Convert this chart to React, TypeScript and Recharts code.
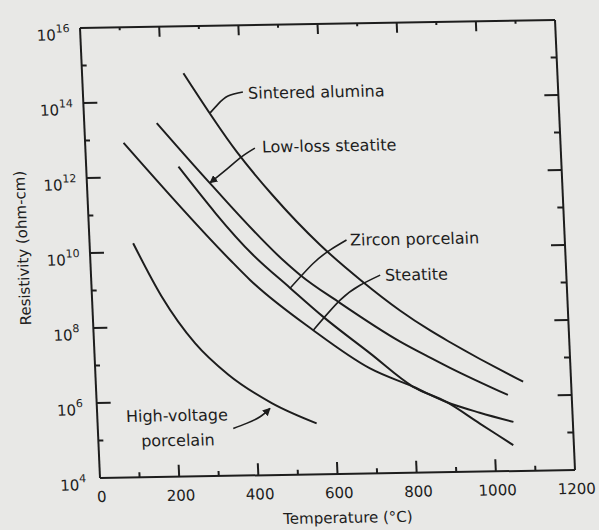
import { LineChart, Line, XAxis, YAxis, ReferenceLine, ReferenceDot } from 'recharts';

// Resistivity of ceramic insulators vs temperature (exponent of ohm-cm)
const aluminaT = [256, 382, 468, 582, 682, 776, 849, 899, 1063, 1079];
const aluminaR = [14.75, 12.63, 11.45, 10.11, 9.14, 8.33, 7.79, 7.46, 6.47, 6.38];

const lowLossT = [183, 311, 487, 528, 625, 773, 847, 896, 1039];
const lowLossR = [13.43, 11.8, 9.72, 9.32, 8.56, 7.5, 7.06, 6.78, 6.03];

const zirconT = [233, 411, 501, 581, 696, 801, 883, 965, 1047];
const zirconR = [12.26, 9.88, 8.98, 8.2, 7.2, 6.29, 5.87, 5.28, 4.69];

const steatiteT = [97, 353, 401, 554, 694, 801, 883, 966, 1050];
const steatiteR = [12.92, 9.75, 9.21, 7.85, 6.8, 6.29, 5.87, 5.57, 5.31];

const hvT = [110, 176, 255, 335, 442, 553];
const hvR = [10.24, 8.81, 7.55, 6.7, 5.92, 5.36];

// leader lines from the labels to their curves
const aluminaLeaderT = [404, 366, 340, 319];
const aluminaLeaderR = [14.22, 14.12, 13.91, 13.68];
const lowLossLeaderT = [428, 394, 358, 311];
const lowLossLeaderR = [12.72, 12.5, 12.2, 11.82];
const zirconLeaderT = [649, 606, 562, 501];
const zirconLeaderR = [10.23, 9.97, 9.62, 8.97];
const steatiteLeaderT = [730, 678, 626, 555];
const steatiteLeaderR = [9.28, 9.02, 8.63, 7.84];
const hvLeaderT = [342, 376, 411, 437];
const hvLeaderR = [5.26, 5.39, 5.56, 5.78];

const tempTicks = [0, 100, 200, 300, 400, 500, 600, 700, 800, 900, 1000, 1100, 1200];
const exponentTicks = [4, 5, 6, 7, 8, 9, 10, 11, 12, 13, 14, 15, 16];

const INK = '#1d1d1d';
const PAPER = '#e8e8e6';
const FONT = '"DejaVu Sans", sans-serif';

const PLOT_LEFT = 100;
const PLOT_RIGHT = 575;
const PLOT_TOP = 28;
const PLOT_BOTTOM = 478;

const zip = (ts: number[], rs: number[]) => ts.map((t, i) => ({ t, r: rs[i] }));

const curves = [
  zip(aluminaT, aluminaR),
  zip(lowLossT, lowLossR),
  zip(zirconT, zirconR),
  zip(steatiteT, steatiteR),
  zip(hvT, hvR),
];

const leaders = [
  { data: zip(aluminaLeaderT, aluminaLeaderR), arrow: false },
  { data: zip(lowLossLeaderT, lowLossLeaderR), arrow: true },
  { data: zip(zirconLeaderT, zirconLeaderR), arrow: false },
  { data: zip(steatiteLeaderT, steatiteLeaderR), arrow: false },
  { data: zip(hvLeaderT, hvLeaderR), arrow: true },
];

const tags = [
  { t: 417, r: 14.19, text: 'Sintered alumina', anchor: 'start' },
  { t: 446, r: 12.75, text: 'Low-loss steatite', anchor: 'start' },
  { t: 658, r: 10.23, text: 'Zircon porcelain', anchor: 'start' },
  { t: 742, r: 9.28, text: 'Steatite', anchor: 'start' },
  { t: 201, r: 5.63, text: 'High-voltage', anchor: 'middle' },
  { t: 201, r: 4.97, text: 'porcelain', anchor: 'middle' },
];

const renderXTick = (props: any) => {
  const { x, payload } = props;
  const v = payload.value;
  const major = v % 200 === 0;
  const edge = v === 0 || v === 1200;
  return (
    <g>
      {!edge && (
        <line x1={x} x2={x} y1={PLOT_BOTTOM} y2={PLOT_BOTTOM - (major ? 12 : 5)} stroke={INK} strokeWidth={2} />
      )}
      {!edge && (
        <line x1={x} x2={x} y1={PLOT_TOP} y2={PLOT_TOP + (major ? 10 : 3)} stroke={INK} strokeWidth={2} />
      )}
      {major && (
        <text x={x + 1} y={PLOT_BOTTOM + 24} textAnchor="middle" fontSize={15} fontFamily={FONT} fill={INK}>
          {v}
        </text>
      )}
    </g>
  );
};

const renderYTick = (props: any) => {
  const { y, payload } = props;
  const n = payload.value;
  const even = n % 2 === 0;
  const edge = n === 4 || n === 16;
  return (
    <g>
      {!edge && (
        <line x1={PLOT_LEFT} x2={PLOT_LEFT + (even ? 14 : 5)} y1={y} y2={y} stroke={INK} strokeWidth={2} />
      )}
      {!edge && (
        <line x1={PLOT_RIGHT} x2={PLOT_RIGHT - (even ? 14 : 6)} y1={y} y2={y} stroke={INK} strokeWidth={2} />
      )}
      {even && (
        <text x={PLOT_LEFT - 27} y={y + 12} textAnchor="middle" fontSize={15} fontFamily={FONT} fill={INK}>
          10
          <tspan dy={-8} fontSize={11}>
            {n}
          </tspan>
        </text>
      )}
    </g>
  );
};

const YTitle = () => (
  <text
    x={33}
    y={247}
    transform="rotate(-90 33 247)"
    textAnchor="middle"
    dominantBaseline="central"
    fontSize={15}
    fontFamily={FONT}
    fill={INK}
  >
    Resistivity (ohm-cm)
  </text>
);

const XTitle = () => (
  <text x={346} y={527} textAnchor="middle" fontSize={15} fontFamily={FONT} fill={INK}>
    Temperature (°C)
  </text>
);

export default function App() {
  return (
    <div
      style={{
        position: 'absolute',
        left: 0,
        top: 0,
        width: 599,
        height: 530,
        overflow: 'hidden',
        background: PAPER,
      }}
    >
      {/* the scan is slightly skewed, so the whole drawing is too */}
      <div
        style={{
          width: 599,
          height: 540,
          transform: 'matrix(1, -0.01684, 0.04444, 1, -21.24, 1.684)',
          transformOrigin: '0 0',
        }}
      >
        <LineChart width={599} height={540} margin={{ top: 28, right: 24, bottom: 0, left: 0 }}>
          <defs>
            <marker
              id="leaderArrow"
              viewBox="0 0 10 10"
              refX="9"
              refY="5"
              markerWidth="5"
              markerHeight="5"
              orient="auto"
            >
              <path d="M0,0 L10,5 L0,10 z" fill={INK} />
            </marker>
          </defs>
          <XAxis
            type="number"
            dataKey="t"
            domain={[0, 1200]}
            ticks={tempTicks}
            interval={0}
            height={62}
            allowDataOverflow
            tickLine={false}
            tickSize={0}
            tickMargin={0}
            axisLine={{ stroke: INK, strokeWidth: 2 }}
            tick={renderXTick}
            label={<XTitle />}
          />
          <YAxis
            type="number"
            dataKey="r"
            domain={[4, 16]}
            ticks={exponentTicks}
            interval={0}
            width={100}
            allowDataOverflow
            tickLine={false}
            tickSize={0}
            tickMargin={0}
            axisLine={{ stroke: INK, strokeWidth: 2 }}
            tick={renderYTick}
            label={<YTitle />}
          />
          <ReferenceLine y={16} stroke={INK} strokeWidth={2} />
          <ReferenceLine x={1200} stroke={INK} strokeWidth={2} />
          {curves.map((data, i) => (
            <Line
              key={`curve-${i}`}
              data={data}
              dataKey="r"
              type="monotone"
              stroke={INK}
              strokeWidth={2}
              dot={false}
              activeDot={false}
              isAnimationActive={false}
            />
          ))}
          {leaders.map((ld, i) => (
            <Line
              key={`leader-${i}`}
              data={ld.data}
              dataKey="r"
              type="natural"
              stroke={INK}
              strokeWidth={1.6}
              dot={false}
              activeDot={false}
              markerEnd={ld.arrow ? 'url(#leaderArrow)' : undefined}
              isAnimationActive={false}
            />
          ))}
          {tags.map((tg) => (
            <ReferenceDot
              key={tg.text}
              x={tg.t}
              y={tg.r}
              r={1}
              shape={(p: any) => (
                <text
                  x={p.cx}
                  y={p.cy}
                  dy="0.35em"
                  textAnchor={tg.anchor as any}
                  fontSize={16}
                  fontFamily={FONT}
                  fill={INK}
                >
                  {tg.text}
                </text>
              )}
            />
          ))}
        </LineChart>
      </div>
    </div>
  );
}
